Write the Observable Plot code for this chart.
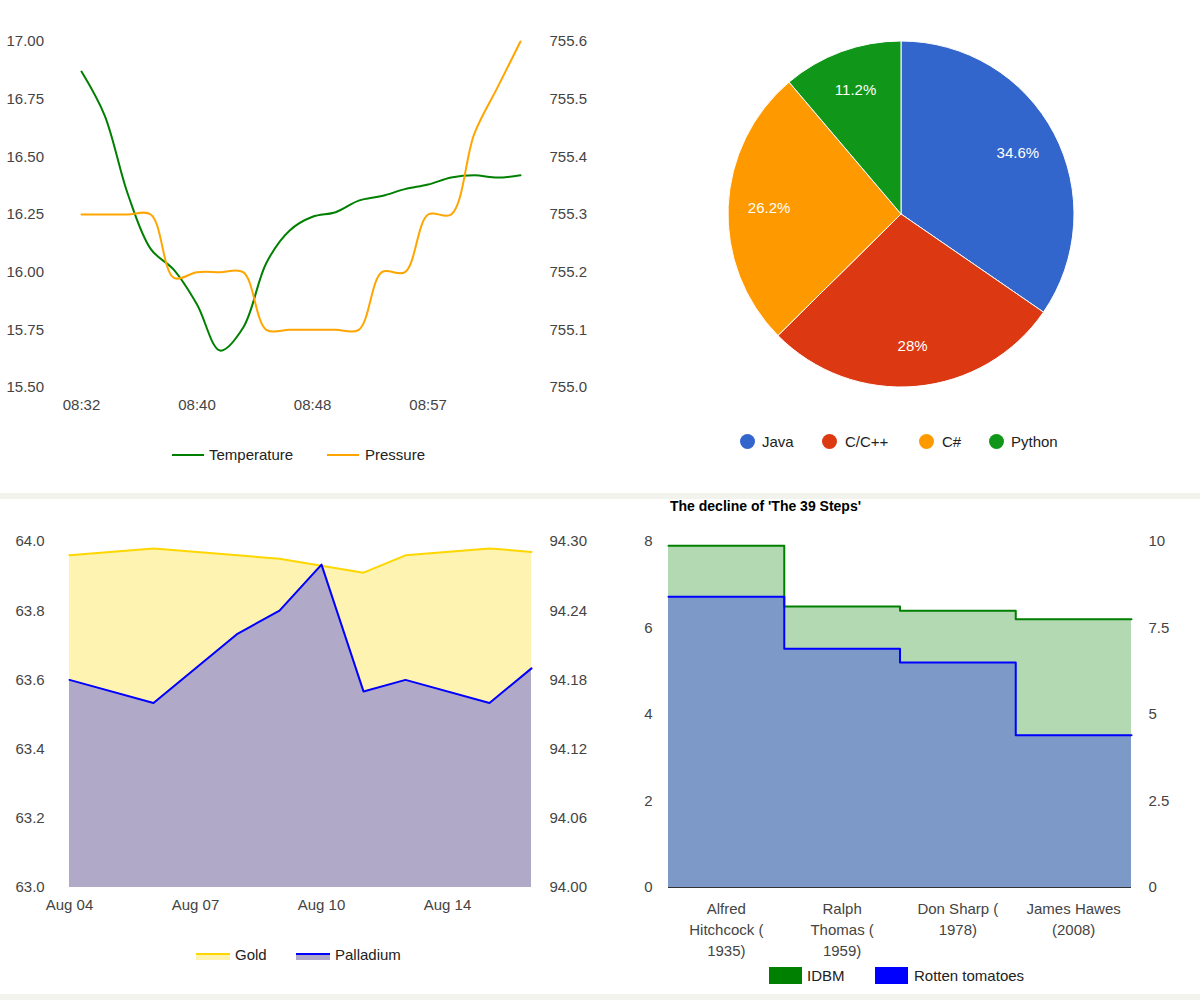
<!DOCTYPE html>
<html>
<head>
<meta charset="utf-8">
<script src="https://cdn.jsdelivr.net/npm/d3@7"></script>
<script src="https://cdn.jsdelivr.net/npm/@observablehq/plot@0.6"></script>
<style>
  body { margin: 0; background: #fff; font-family: "Liberation Sans", Arial, sans-serif; }
  #page { position: relative; width: 1200px; height: 1000px; overflow: hidden; }
  .panel { position: absolute; }
  .sep { position: absolute; left: 0; width: 1200px; background: #f3f3ee; }
  .legend { position: absolute; font-size: 15px; color: #222; white-space: nowrap; }
  .legend span { position: absolute; }
  .title { position: absolute; font-size: 14px; font-weight: bold; color: #000; }
</style>
</head>
<body>
<div id="page">
  <div class="sep" style="top:493px;height:6px"></div>
  <div class="sep" style="top:994px;height:6px"></div>
  <div class="panel" id="p1" style="left:0;top:0"></div>
  <div class="panel" id="p2" style="left:600px;top:0"></div>
  <div class="panel" id="p3" style="left:0;top:500px"></div>
  <div class="panel" id="p4" style="left:600px;top:500px"></div>
  <div class="title" style="left:670px;top:498px">The decline of 'The 39 Steps'</div>
  <div id="legends"></div>
</div>
<script>
// ---- weather (top left)
const timeLabels = ["08:32", "08:40", "08:48", "08:57"];
const temperature = [16.87, 16.68, 16.34, 16.10, 16.01, 15.86, 15.66, 15.76, 16.04, 16.18,
                     16.24, 16.26, 16.31, 16.33, 16.36, 16.38, 16.41, 16.42, 16.41, 16.42];
const pressure = [755.3, 755.3, 755.3, 755.3, 755.19, 755.2, 755.2, 755.2, 755.1, 755.1,
                  755.1, 755.1, 755.1, 755.2, 755.2, 755.3, 755.3, 755.44, 755.52, 755.6];

// ---- languages pie (top right)
const languages = ["Java", "C/C++", "C#", "Python"];
const shares = [34.6, 28, 26.2, 11.2];
const shareLabels = ["34.6%", "28%", "26.2%", "11.2%"];
const langColors = ["#3366cc", "#dc3912", "#ff9900", "#109618"];

// ---- metals (bottom left)
const metalDays = ["Aug 04", "Aug 05", "Aug 06", "Aug 07", "Aug 08", "Aug 09", "Aug 10",
                   "Aug 11", "Aug 12", "Aug 14", "Aug 15", "Aug 16"];
const metalIdx = [0, 2, 4, 5, 6, 7, 8, 10, 11];
const gold = [63.96, 63.98, 63.96, 63.95, 63.93, 63.91, 63.96, 63.98, 63.97];
const palladium = [94.18, 94.16, 94.22, 94.24, 94.28, 94.17, 94.18, 94.16, 94.19];

// ---- 39 steps (bottom right)
const directors = ["Alfred\nHitchcock (\n1935)", "Ralph\nThomas (\n1959)", "Don Sharp (\n1978)", "James Hawes\n(2008)"];
const imdb = [7.9, 6.5, 6.4, 6.2];
const rotten = [8.4, 6.9, 6.5, 4.4];

const font = "Liberation Sans, Arial, sans-serif";
const baseStyle = {fontFamily: font, fontSize: "15px", color: "#444", background: "transparent", overflow: "visible"};

// panel 1
const tempTicks = d3.range(15.5, 17.01, 0.25);
const p2t = p => 15.5 + (p - 755) / 0.6 * 1.5;
const t2p = t => 755 + (t - 15.5) / 1.5 * 0.6;
const weather = temperature.map((t, i) => ({i, t, p: p2t(pressure[i])}));
document.getElementById("p1").append(Plot.plot({
  width: 600, height: 420,
  marginLeft: 81, marginRight: 80, marginTop: 41, marginBottom: 33,
  style: baseStyle,
  x: {domain: [0, 19]},
  y: {domain: [15.5, 17]},
  marks: [
    Plot.axisY(tempTicks, {anchor: "left", tickSize: 0, textAnchor: "start", dx: -66, tickFormat: d3.format(".2f"), label: null}),
    Plot.axisY(tempTicks, {anchor: "right", tickSize: 0, tickPadding: 29, tickFormat: v => t2p(v).toFixed(1), label: null}),
    Plot.axisX([0, 5, 10, 15], {tickSize: 0, tickPadding: 12, tickFormat: i => timeLabels[i / 5], label: null}),
    Plot.line(weather, {x: "i", y: "t", stroke: "#008000", strokeWidth: 2, curve: "catmull-rom"}),
    Plot.line(weather, {x: "i", y: "p", stroke: "#ffa500", strokeWidth: 2, curve: "catmull-rom"})
  ]
}));

// panel 2: pie
const pieData = languages.map((name, i) => ({name, value: shares[i], label: shareLabels[i], color: langColors[i]}));
document.getElementById("p2").append(Plot.plot({
  width: 600, height: 420, margin: 0,
  style: baseStyle,
  x: {domain: [0, 600], axis: null},
  y: {domain: [0, 420], axis: null},
  marks: [
    () => {
      const g = d3.create("svg:g").attr("transform", "translate(301,214)");
      const arcs = d3.pie().sort(null).value(d => d.value)(pieData);
      const arc = d3.arc().innerRadius(0).outerRadius(173);
      const lab = d3.arc().innerRadius(132).outerRadius(132);
      g.selectAll("path").data(arcs).join("path")
        .attr("d", arc).attr("fill", d => d.data.color)
        .attr("stroke", "#fff").attr("stroke-width", 1);
      g.selectAll("text").data(arcs).join("text")
        .attr("transform", d => `translate(${lab.centroid(d)})`)
        .attr("text-anchor", "middle").attr("dy", "0.35em")
        .attr("fill", "#fff").attr("font-size", 15).text(d => d.data.label);
      return g.node();
    }
  ]
}));

// panel 3: metals
const p2g = r => 63 + (r - 94) / 0.3;
const goldTicks = d3.range(63, 64.01, 0.2);
const metals = metalIdx.map((k, j) => ({k, gold: gold[j], pall: p2g(palladium[j])}));
document.getElementById("p3").append(Plot.plot({
  width: 600, height: 420,
  marginLeft: 69, marginRight: 69, marginTop: 41, marginBottom: 33,
  style: baseStyle,
  x: {domain: [0, 11]},
  y: {domain: [63, 64]},
  marks: [
    Plot.areaY(metals, {x: "k", y1: 63, y2: "gold", fill: "#fef3b1"}),
    Plot.areaY(metals, {x: "k", y1: 63, y2: "pall", fill: "#b0a9c8"}),
    Plot.line(metals, {x: "k", y: "gold", stroke: "#ffd700", strokeWidth: 2}),
    Plot.line(metals, {x: "k", y: "pall", stroke: "#0000ff", strokeWidth: 2}),
    Plot.axisY(goldTicks, {anchor: "left", tickSize: 0, textAnchor: "start", dx: -45, tickFormat: d3.format(".1f"), label: null}),
    Plot.axisY(goldTicks, {anchor: "right", tickSize: 0, tickPadding: 18, tickFormat: v => (94 + (v - 63) * 0.3).toFixed(2), label: null}),
    Plot.axisX([0, 3, 6, 9], {tickSize: 0, tickPadding: 12, tickFormat: k => metalDays[k], label: null})
  ]
}));

// panel 4: steps
const stepsData = imdb.map((v, i) => ({i, imdb: v, rt: rotten[i] * 0.8}));
stepsData.push({i: 4, imdb: imdb[3], rt: rotten[3] * 0.8});
document.getElementById("p4").append(Plot.plot({
  width: 600, height: 470,
  marginLeft: 68, marginRight: 69, marginTop: 41, marginBottom: 83,
  style: baseStyle,
  x: {domain: [0, 4]},
  y: {domain: [0, 8]},
  marks: [
    Plot.areaY(stepsData, {x: "i", y: "imdb", fill: "#b3d9b3", curve: "step-after"}),
    Plot.areaY(stepsData, {x: "i", y: "rt", fill: "#7d99c8", curve: "step-after"}),
    Plot.line(stepsData, {x: "i", y: "imdb", stroke: "#008000", strokeWidth: 2, curve: "step-after"}),
    Plot.line(stepsData, {x: "i", y: "rt", stroke: "#0000ff", strokeWidth: 2, curve: "step-after"}),
    Plot.ruleY([0], {stroke: "#333"}),
    Plot.axisY([0, 2, 4, 6, 8], {anchor: "left", tickSize: 0, tickPadding: 16, label: null}),
    Plot.axisY([0, 2, 4, 6, 8], {anchor: "right", tickSize: 0, tickPadding: 17, tickFormat: v => v * 1.25, label: null}),
    Plot.axisX([0.5, 1.5, 2.5, 3.5], {tickSize: 0, tickPadding: 12, tickFormat: v => directors[v - 0.5], lineHeight: 1.4, label: null})
  ]
}));

// legends
const legends = document.getElementById("legends");
function addLegend(items, top) {
  const div = document.createElement("div");
  div.className = "legend";
  div.style.top = top + "px";
  div.style.left = "0px";
  for (const it of items) {
    const sw = document.createElement("span");
    sw.style.cssText = it.sw;
    div.append(sw);
    const tx = document.createElement("span");
    tx.textContent = it.text;
    tx.style.left = it.tx + "px";
    tx.style.top = "0px";
    div.append(tx);
  }
  legends.append(div);
}
addLegend([
  {text: "Temperature", tx: 209, sw: "left:172px;top:8px;width:32px;height:2px;background:#008000"},
  {text: "Pressure", tx: 365, sw: "left:327px;top:8px;width:32px;height:2px;background:#ffa500"}
], 446);
addLegend(languages.map((l, i) => ({
  text: l, tx: [762, 845, 942, 1011][i],
  sw: `left:${[740, 822, 919, 989][i]}px;top:1px;width:15px;height:15px;border-radius:50%;background:${langColors[i]}`
})), 433);
addLegend([
  {text: "Gold", tx: 235, sw: "left:196px;top:7px;width:34px;height:7px;border-top:2px solid #ffd700;background:#fef3b1;box-sizing:border-box"},
  {text: "Palladium", tx: 335, sw: "left:296px;top:7px;width:34px;height:7px;border-top:2px solid #0000ff;background:#b0a9c8;box-sizing:border-box"}
], 946);
addLegend([
  {text: "IDBM", tx: 807, sw: "left:769px;top:0px;width:33px;height:17px;background:#008000"},
  {text: "Rotten tomatoes", tx: 914, sw: "left:875px;top:0px;width:33px;height:17px;background:#0000ff"}
], 967);
</script>
</body>
</html>
